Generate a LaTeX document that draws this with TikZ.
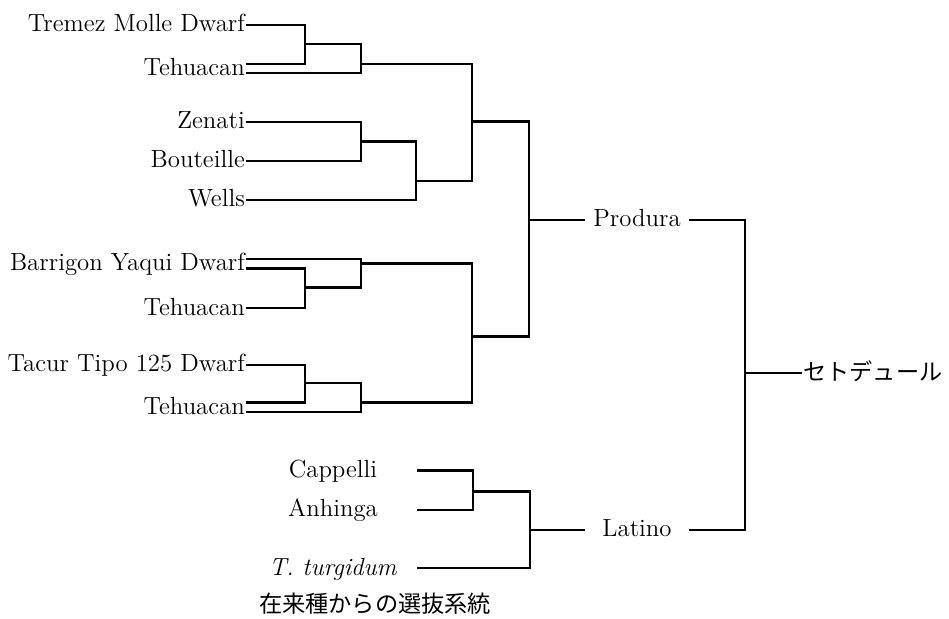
\documentclass[tikz,border=0pt]{standalone}
\usepackage{fontspec}
\newfontfamily\jpfont{Noto Sans CJK JP}
\begin{document}
\begin{tikzpicture}[x=0.5pt,y=-0.5pt,
  every path/.style={line width=1.2pt, line join=miter},
  txt/.style={inner sep=0pt, font=\fontsize{12.4}{14}\selectfont, text height=0.68em, text depth=0pt},
  leaf/.style={txt, anchor=east},
  midlab/.style={txt, minimum width=51pt},
  jp/.style={inner sep=0pt, font=\jpfont\fontsize{11.6}{14}\selectfont, text height=0.76em, text depth=0pt}]
\useasboundingbox (0,0) rectangle (949,619);

% ---- leaf labels
\node[leaf] (tm)  at (246,25)    {Tremez Molle Dwarf};
\node[leaf] (te1) at (246,68.5)  {Tehuacan};
\node[leaf] (ze)  at (246,122)   {Zenati};
\node[leaf] (bo)  at (246,161)   {Bouteille};
\node[leaf] (we)  at (246,200)   {Wells};
\node[leaf] (ba)  at (246,264)   {Barrigon Yaqui Dwarf};
\node[leaf] (te2) at (246,308.3) {Tehuacan};
\node[leaf] (ta)  at (246,365)   {Tacur Tipo 125 Dwarf};
\node[leaf] (te3) at (246,407.3) {Tehuacan};
\node[txt] (ca) at (333,471) {Cappelli};
\node[txt] (an) at (333,510) {Anhinga};
\node[txt] (tt) at (333,568.3) {\textit{T. turgidum}};
\node[midlab] (pr) at (637,220) {Produra};
\node[midlab] (la) at (637,530) {Latino};
\node[jp, anchor=west] (se) at (802,373) {セトデュール};
\node[jp] (src) at (375,605) {在来種からの選抜系統};

% ---- line start points on the leaves
\coordinate (tmL)  at (tm.east);
\coordinate (te1a) at (te1.east |- 0,64);
\coordinate (te1b) at (te1.east |- 0,73);
\coordinate (zeL)  at (ze.east);
\coordinate (boL)  at (bo.east);
\coordinate (weL)  at (we.east);
\coordinate (baa)  at (ba.east |- 0,259.3);
\coordinate (bab)  at (ba.east |- 0,268.7);
\coordinate (te2L) at (te2.east);
\coordinate (taL)  at (ta.east);
\coordinate (te3a) at (te3.east |- 0,402.7);
\coordinate (te3b) at (te3.east |- 0,412);
\coordinate (caL)  at (416.7,470.7);
\coordinate (anL)  at (416.7,510);
\coordinate (ttL)  at (416.7,568.3);

% ---- junctions (x of the bar, y of the outgoing line)
\coordinate (A1) at (305,44.3);
\coordinate (A2) at (361,64);
\coordinate (B1) at (361,141.7);
\coordinate (B2) at (416,181);
\coordinate (AB) at (472,121.7);
\coordinate (C1) at (305,287.7);
\coordinate (C2) at (361,263.7);
\coordinate (D1) at (305,383.3);
\coordinate (D2) at (361,402.7);
\coordinate (CD) at (472,336.7);
\coordinate (P)  at (529,220);
\coordinate (L1) at (473,491.7);
\coordinate (L2) at (530,530);
\coordinate (R)  at (745,373);

% ---- brackets
\draw (tmL) -- (tmL -| A1) -- (te1a -| A1) -- (te1a);
\draw (A1) -- (A1 -| A2) -- (te1b -| A2) -- (te1b);
\draw (zeL) -- (zeL -| B1) -- (boL -| B1) -- (boL);
\draw (B1) -- (B1 -| B2) -- (weL -| B2) -- (weL);
\draw (A2) -- (A2 -| AB) -- (B2 -| AB) -- (B2);
\draw (bab) -- (bab -| C1) -- (te2L -| C1) -- (te2L);
\draw (baa) -- (baa -| C2) -- (C1 -| C2) -- (C1);
\draw (taL) -- (taL -| D1) -- (te3a -| D1) -- (te3a);
\draw (D1) -- (D1 -| D2) -- (te3b -| D2) -- (te3b);
\draw (C2) -- (C2 -| CD) -- (D2 -| CD) -- (D2);
\draw (AB) -- (AB -| P) -- (CD -| P) -- (CD);
\draw (P) -- (pr.west);
\draw (caL) -- (caL -| L1) -- (anL -| L1) -- (anL);
\draw (L1) -- (L1 -| L2) -- (ttL -| L2) -- (ttL);
\draw (L2) -- (la.west);
\draw (pr.east) -- (pr.east -| R) -- (la.east -| R) -- (la.east);
\draw (R) -- (se.west);
\end{tikzpicture}
\end{document}
